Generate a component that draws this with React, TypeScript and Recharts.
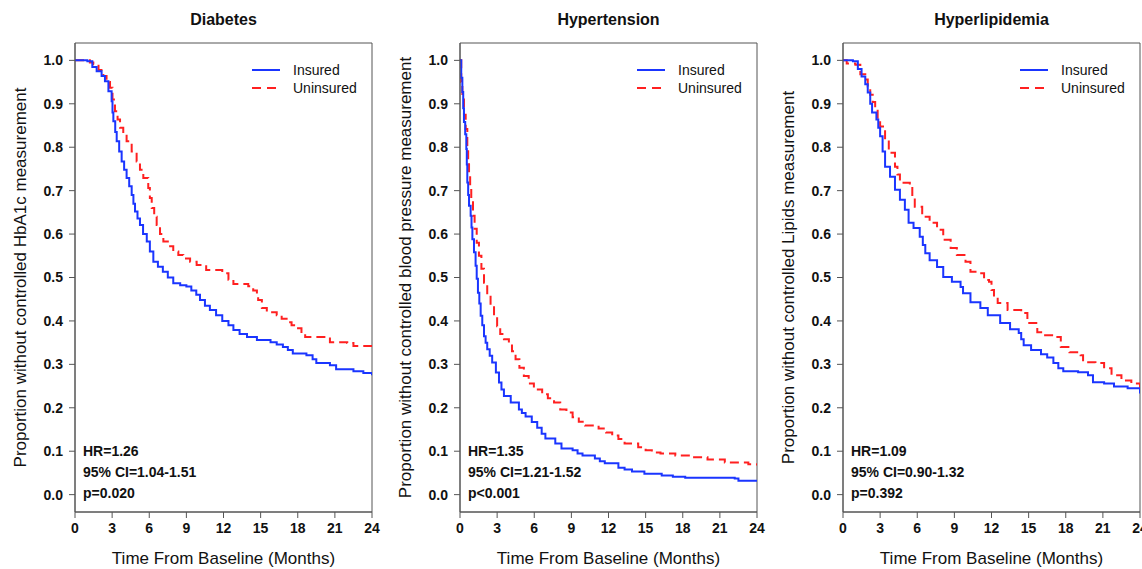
import React from 'react';
import { LineChart, Line, XAxis, YAxis, ReferenceArea, Label } from 'recharts';

type Pt = [number, number];

// Kaplan-Meier style estimates: [month, proportion]
const diabetesInsured: Pt[] = [
  [0, 1], [1.0, 0.998], [1.4, 0.985], [1.75, 0.975], [2.15, 0.964], [2.42, 0.952], [2.7, 0.929], [2.96, 0.906],
  [3.03, 0.88], [3.1, 0.86], [3.25, 0.835], [3.37, 0.814], [3.57, 0.79], [3.77, 0.767], [3.97, 0.748],
  [4.17, 0.729], [4.38, 0.71], [4.58, 0.69], [4.72, 0.67], [4.85, 0.652], [5.05, 0.636], [5.25, 0.621],
  [5.5, 0.6], [5.8, 0.583], [6.05, 0.56], [6.33, 0.536], [6.7, 0.525], [7.1, 0.513], [7.5, 0.5], [7.94, 0.487],
  [8.5, 0.482], [9.0, 0.479], [9.4, 0.47], [9.8, 0.46], [10.1, 0.448], [10.5, 0.435], [10.9, 0.425],
  [11.4, 0.413], [11.9, 0.4], [12.4, 0.39], [12.8, 0.379], [13.3, 0.37], [13.9, 0.363], [14.7, 0.356],
  [15.8, 0.351], [16.3, 0.346], [16.8, 0.34], [17.2, 0.333], [17.6, 0.325], [18.7, 0.321], [19.2, 0.312],
  [19.5, 0.303], [20.6, 0.298], [21.1, 0.289], [22.5, 0.284], [23.3, 0.28], [24, 0.275],
];
const diabetesUninsured: Pt[] = [
  [0, 1], [1.2, 0.995], [1.48, 0.991], [1.9, 0.978], [2.29, 0.964], [2.55, 0.95], [2.83, 0.937], [3.03, 0.91],
  [3.23, 0.883], [3.44, 0.864], [3.64, 0.845], [3.9, 0.83], [4.17, 0.814], [4.58, 0.79], [4.98, 0.767],
  [5.25, 0.748], [5.52, 0.729], [5.92, 0.706], [6.05, 0.683], [6.2, 0.66], [6.4, 0.64], [6.6, 0.621],
  [6.87, 0.6], [7.14, 0.583], [7.5, 0.572], [7.94, 0.56], [8.35, 0.552], [8.75, 0.544], [9.3, 0.536],
  [9.83, 0.529], [10.6, 0.517], [11.9, 0.51], [12.4, 0.495], [12.8, 0.485], [14.0, 0.48], [14.4, 0.47],
  [14.7, 0.46], [14.8, 0.448], [15.1, 0.43], [15.5, 0.42], [16.3, 0.413], [16.7, 0.405], [17.1, 0.397],
  [17.5, 0.39], [17.9, 0.383], [18.3, 0.37], [18.6, 0.363], [20.6, 0.351], [22.0, 0.349], [22.5, 0.342],
  [24, 0.34],
];
const htnInsured: Pt[] = [
  [0, 1], [0.1, 0.96], [0.19, 0.927], [0.26, 0.89], [0.32, 0.858], [0.42, 0.83], [0.51, 0.796], [0.55, 0.76],
  [0.59, 0.719], [0.66, 0.69], [0.73, 0.665], [0.86, 0.642], [0.93, 0.615], [1.0, 0.588], [1.13, 0.558],
  [1.26, 0.527], [1.35, 0.497], [1.45, 0.465], [1.56, 0.44], [1.67, 0.412], [1.8, 0.39], [1.94, 0.365],
  [2.07, 0.35], [2.2, 0.335], [2.4, 0.32], [2.6, 0.304], [2.9, 0.281], [3.15, 0.258], [3.35, 0.242],
  [3.55, 0.227], [4.1, 0.212], [4.76, 0.196], [5.0, 0.188], [5.3, 0.18], [5.8, 0.167], [6.24, 0.154],
  [6.6, 0.14], [6.9, 0.129], [7.7, 0.118], [8.2, 0.106], [9.1, 0.102], [9.5, 0.095], [9.9, 0.09],
  [10.9, 0.083], [11.3, 0.077], [11.7, 0.072], [12.8, 0.062], [13.3, 0.058], [13.9, 0.053], [14.9, 0.048],
  [16.3, 0.044], [17.2, 0.041], [18.2, 0.039], [22.2, 0.037], [22.5, 0.032], [24, 0.03],
];
const htnUninsured: Pt[] = [
  [0, 1], [0.1, 0.95], [0.19, 0.91], [0.32, 0.875], [0.46, 0.842], [0.59, 0.796], [0.66, 0.765],
  [0.73, 0.735], [0.82, 0.705], [0.91, 0.673], [1.05, 0.642], [1.18, 0.612], [1.35, 0.58], [1.53, 0.55],
  [1.73, 0.52], [1.94, 0.488], [2.2, 0.46], [2.47, 0.435], [2.75, 0.41], [3.0, 0.388], [3.25, 0.37],
  [3.55, 0.358], [3.95, 0.35], [4.2, 0.33], [4.49, 0.312], [4.8, 0.292], [5.16, 0.273], [5.55, 0.256],
  [5.97, 0.242], [6.64, 0.231], [7.1, 0.222], [7.6, 0.212], [8.1, 0.196], [8.6, 0.189], [9.1, 0.178],
  [9.6, 0.168], [10.1, 0.159], [11.2, 0.152], [11.8, 0.143], [12.3, 0.136], [12.8, 0.128], [13.3, 0.118],
  [14.4, 0.109], [15.0, 0.102], [15.5, 0.097], [16.2, 0.095], [17.4, 0.09], [18.7, 0.086], [20.0, 0.081],
  [21.4, 0.074], [23.3, 0.07], [24, 0.067],
];
const lipidInsured: Pt[] = [
  [0, 1], [0.8, 0.998], [1.2, 0.98], [1.5, 0.963], [1.8, 0.945], [2.0, 0.926], [2.2, 0.9], [2.35, 0.88],
  [2.7, 0.864], [2.85, 0.845], [3.0, 0.825], [3.2, 0.79], [3.4, 0.755], [3.8, 0.732], [4.2, 0.702],
  [4.6, 0.679], [5.0, 0.656], [5.3, 0.626], [5.7, 0.614], [6.2, 0.594], [6.45, 0.575], [6.65, 0.556],
  [7.0, 0.54], [7.6, 0.524], [8.1, 0.501], [8.8, 0.49], [9.5, 0.478], [9.7, 0.464], [10.3, 0.443],
  [11.1, 0.43], [11.7, 0.413], [12.7, 0.395], [13.5, 0.381], [14.2, 0.372], [14.4, 0.358], [14.6, 0.344],
  [15.2, 0.333], [16.0, 0.323], [16.5, 0.316], [17.0, 0.303], [17.4, 0.291], [17.8, 0.284], [19.0, 0.282],
  [19.8, 0.275], [20.2, 0.259], [21.1, 0.256], [21.9, 0.249], [23.0, 0.245], [24, 0.233],
];
const lipidUninsured: Pt[] = [
  [0, 1], [0.3, 0.993], [1.0, 0.99], [1.4, 0.968], [1.8, 0.956], [2.0, 0.94], [2.2, 0.921], [2.4, 0.904],
  [2.6, 0.887], [2.8, 0.868], [3.0, 0.848], [3.4, 0.818], [3.7, 0.787], [4.2, 0.755], [4.4, 0.737],
  [4.6, 0.718], [5.4, 0.709], [5.6, 0.686], [5.8, 0.663], [6.4, 0.64], [7.0, 0.626], [7.6, 0.61],
  [8.1, 0.587], [8.7, 0.568], [9.2, 0.552], [9.9, 0.536], [10.3, 0.513], [11.0, 0.51], [11.4, 0.494],
  [11.8, 0.49], [12.0, 0.471], [12.2, 0.455], [12.5, 0.441], [13.3, 0.425], [14.4, 0.418], [14.9, 0.395],
  [15.7, 0.374], [16.1, 0.367], [17.0, 0.363], [17.6, 0.34], [18.3, 0.328], [19.2, 0.321], [19.4, 0.305],
  [20.4, 0.303], [21.1, 0.291], [21.7, 0.275], [22.5, 0.263], [23.3, 0.256], [24, 0.24],
];

const xTicks = [0, 3, 6, 9, 12, 15, 18, 21, 24];
const yTicks = [0, 0.1, 0.2, 0.3, 0.4, 0.5, 0.6, 0.7, 0.8, 0.9, 1.0];
const seriesNames = ['Insured', 'Uninsured'];

const FONT = '"Liberation Sans", Arial, Helvetica, sans-serif';
const BLUE = '#1a35ff';
const RED = '#ff2020';
const AXIS = '#555';

const toRows = (pts: Pt[]) => pts.map(([t, s]) => ({ t, s }));

interface PanelProps {
  left: number;
  width: number;
  title: string;
  yLabel: string;
  insured: Pt[];
  uninsured: Pt[];
  stats: string[];
}

const PLOT_LEFT = 75;
const PLOT_W = 297;
const TOP = 43;
const H = 569;

function Panel({ left, width, title, yLabel, insured, uninsured, stats }: PanelProps) {
  const tickStyle = { fontSize: 14, fontWeight: 700, fill: '#111', fontFamily: FONT };
  return (
    <div style={{ position: 'absolute', left, top: 0, width, height: H }}>
      <LineChart width={width} height={H} margin={{ top: TOP, right: width - PLOT_LEFT - PLOT_W, bottom: 0, left: 0 }}>
        <XAxis
          type="number"
          dataKey="t"
          domain={[0, 24]}
          ticks={xTicks}
          interval={0}
          height={57}
          tickSize={6}
          tickMargin={5}
          stroke={AXIS}
          tick={tickStyle}
          allowDataOverflow
        >
          <Label
            value="Time From Baseline (Months)"
            position="insideBottom"
            offset={5}
            style={{ fontSize: 17, fill: '#111', fontFamily: FONT }}
          />
        </XAxis>
        <YAxis
          type="number"
          domain={[-0.04, 1.04]}
          ticks={yTicks}
          interval={0}
          width={PLOT_LEFT}
          tickSize={6}
          tickMargin={6}
          stroke={AXIS}
          tick={tickStyle}
          tickFormatter={(v: number) => v.toFixed(1)}
          allowDataOverflow
        >
          <Label
            value={yLabel}
            angle={-90}
            position="insideLeft"
            offset={20}
            style={{ fontSize: 17, fill: '#111', fontFamily: FONT, textAnchor: 'middle' }}
          />
        </YAxis>
        <ReferenceArea x1={0} x2={24} y1={-0.04} y2={1.04} fill="none" stroke={AXIS} strokeWidth={1} ifOverflow="visible" />
        <Line
          data={toRows(uninsured)}
          dataKey="s"
          type="stepAfter"
          stroke={RED}
          strokeWidth={2}
          strokeDasharray="9 5"
          dot={false}
          isAnimationActive={false}
          name={seriesNames[1]}
        />
        <Line
          data={toRows(insured)}
          dataKey="s"
          type="stepAfter"
          stroke={BLUE}
          strokeWidth={2}
          dot={false}
          isAnimationActive={false}
          name={seriesNames[0]}
        />
      </LineChart>

      <div
        style={{
          position: 'absolute', left: PLOT_LEFT, width: PLOT_W, top: 12, textAlign: 'center',
          fontFamily: FONT, fontWeight: 700, fontSize: 16, lineHeight: '16px', color: '#111',
        }}
      >
        {title}
      </div>

      <div style={{ position: 'absolute', left: PLOT_LEFT + 177, top: 61, fontFamily: FONT, fontSize: 14, color: '#111' }}>
        {seriesNames.map((n, i) => (
          <div key={n} style={{ display: 'flex', alignItems: 'center', height: 18 }}>
            <svg width={28} height={4} style={{ marginRight: 13 }}>
              <line
                x1={0} y1={2} x2={28} y2={2}
                stroke={i === 0 ? BLUE : RED}
                strokeWidth={2}
                strokeDasharray={i === 0 ? undefined : '9 6'}
              />
            </svg>
            <span>{n}</span>
          </div>
        ))}
      </div>

      <div
        style={{
          position: 'absolute', left: PLOT_LEFT + 8, top: 441, fontFamily: FONT, fontWeight: 700,
          fontSize: 14, lineHeight: '21px', color: '#111',
        }}
      >
        {stats.map((s) => (
          <div key={s}>{s}</div>
        ))}
      </div>
    </div>
  );
}

export default function App() {
  return (
    <div style={{ position: 'absolute', left: 0, top: 0, width: 1142, height: 569, background: '#fff', overflow: 'hidden' }}>
      <Panel
        left={0}
        width={384}
        title="Diabetes"
        yLabel="Proportion without controlled HbA1c measurement"
        insured={diabetesInsured}
        uninsured={diabetesUninsured}
        stats={['HR=1.26', '95% CI=1.04-1.51', 'p=0.020']}
      />
      <Panel
        left={385}
        width={384}
        title="Hypertension"
        yLabel="Proportion without controlled blood pressure measurement"
        insured={htnInsured}
        uninsured={htnUninsured}
        stats={['HR=1.35', '95% CI=1.21-1.52', 'p<0.001']}
      />
      <Panel
        left={768}
        width={384}
        title="Hyperlipidemia"
        yLabel="Proportion without controlled Lipids measurement"
        insured={lipidInsured}
        uninsured={lipidUninsured}
        stats={['HR=1.09', '95% CI=0.90-1.32', 'p=0.392']}
      />
    </div>
  );
}
